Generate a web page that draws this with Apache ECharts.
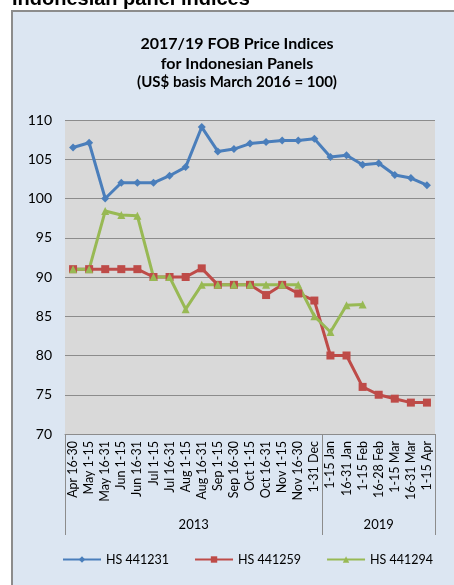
<!DOCTYPE html>
<html>
<head>
<meta charset="utf-8">
<script src="https://cdn.jsdelivr.net/npm/echarts@6/dist/echarts.min.js"></script>
<style>
  html, body { margin: 0; padding: 0; background: #fff; }
  #main { width: 454px; height: 585px; }
</style>
</head>
<body>
<div id="main"></div>
<script>
// half-month periods
const categories = [
  'Apr 16-30', 'May 1-15', 'May 16-31', 'Jun 1-15', 'Jun 16-31', 'Jul 1-15',
  'Jul 16-31', 'Aug 1-15', 'Aug 16-31', 'Sep 1-15', 'Sep 16-30', 'Oct 1-15',
  'Oct 16-31', 'Nov 1-15', 'Nov 16-30', '1-31 Dec',
  '1-15 Jan', '16-31 Jan', '1-15 Feb', '16-28 Feb', '1-15 Mar', '16-31 Mar', '1-15 Apr'
]
const yearLabels = ['2013', '2019']
const yearSpans = [16, 7]

const hs441231 = [106.5, 107.1, 100, 102, 102, 102, 102.9, 104, 109.1, 106, 106.3, 107,
  107.2, 107.4, 107.4, 107.6, 105.3, 105.5, 104.3, 104.5, 103, 102.6, 101.7]
const hs441259 = [91, 91, 91, 91, 91, 90, 90, 90, 91.1, 89, 89, 89,
  87.7, 89, 87.9, 87, 80, 80, 76, 75, 74.5, 74, 74]
const hs441294 = [91, 91, 98.4, 97.9, 97.8, 90, 90, 85.9, 89, 89, 89, 89,
  89, 89, 89, 85, 83, 86.4, 86.5, null, null, null, null]

const yTicks = [70, 110, 5] // min, max, step

// group boundaries / centres on the 0..n scale
const bounds = [0]
yearSpans.forEach(s => bounds.push(bounds[bounds.length - 1] + s))
const centres = yearSpans.map((s, i) => bounds[i] + s / 2)

const font = 'Lato'
const gridGray = '#8c8c8c'

const chart = echarts.init(document.getElementById('main'))

const options = {
  backgroundColor: '#fff',
  animation: false,
  textStyle: { fontFamily: font },
  graphic: [
    {
      type: 'rect',
      z: -100,
      shape: { x: 12, y: 11, width: 600, height: 700 },
      style: { fill: '#dce6f2', stroke: '#8c8c8c', lineWidth: 2 }
    },
    {
      type: 'text',
      left: 12,
      top: -11,
      style: {
        text: 'Indonesian panel indices',
        font: 'bold 20px "Liberation Sans", Arial, sans-serif',
        fill: '#000'
      }
    }
  ],
  title: {
    left: 232,
    top: 29,
    textAlign: 'center',
    itemGap: 1,
    text: '2017/19 FOB Price Indices\nfor Indonesian Panels',
    textStyle: { fontFamily: font, fontSize: 16, fontWeight: 'bold', color: '#000', lineHeight: 20 },
    subtext: '(US$ basis March 2016 = 100)',
    subtextStyle: { fontFamily: font, fontSize: 15, fontWeight: 'bold', color: '#000' }
  },
  legend: {
    left: 57,
    top: 548,
    itemWidth: 38,
    itemHeight: 8,
    itemGap: 25,
    textStyle: { fontFamily: font, fontSize: 12.5, color: '#000' },
    data: ['HS 441231', 'HS 441259', 'HS 441294']
  },
  grid: {
    left: 65,
    top: 120,
    width: 370,
    height: 314,
    show: true,
    backgroundColor: '#d9d9d9',
    borderWidth: 0
  },
  xAxis: [
    {
      type: 'category',
      data: categories,
      boundaryGap: true,
      axisLine: { show: true, lineStyle: { color: gridGray, width: 1 } },
      axisTick: { show: false },
      axisLabel: { interval: 0, rotate: 90, margin: 7, fontSize: 12.5, color: '#000', fontFamily: font }
    },
    {
      type: 'value',
      min: 0,
      max: bounds[bounds.length - 1],
      position: 'bottom',
      axisLine: { show: false },
      splitLine: { show: false },
      axisTick: {
        show: true,
        length: 101,
        customValues: bounds,
        lineStyle: { color: gridGray, width: 1 }
      },
      axisLabel: {
        customValues: centres,
        margin: 84,
        fontSize: 13,
        color: '#000',
        fontFamily: font,
        formatter: v => yearLabels[centres.indexOf(v)]
      }
    }
  ],
  yAxis: {
    type: 'value',
    min: yTicks[0],
    max: yTicks[1],
    interval: yTicks[2],
    axisLine: { show: false },
    axisTick: { show: false },
    axisLabel: { margin: 13, fontSize: 14, color: '#000', fontFamily: font },
    splitLine: { lineStyle: { color: gridGray, width: 1 } }
  },
  series: [
    {
      name: 'HS 441231',
      type: 'line',
      data: hs441231,
      symbol: 'diamond',
      symbolSize: 8,
      lineStyle: { color: '#4a7ebb', width: 3 },
      itemStyle: { color: '#4a7ebb' }
    },
    {
      name: 'HS 441259',
      type: 'line',
      data: hs441259,
      symbol: 'rect',
      symbolSize: 8,
      lineStyle: { color: '#be4b48', width: 3 },
      itemStyle: { color: '#be4b48' }
    },
    {
      name: 'HS 441294',
      type: 'line',
      data: hs441294,
      symbol: 'triangle',
      symbolSize: 8,
      lineStyle: { color: '#98b954', width: 3 },
      itemStyle: { color: '#98b954' }
    }
  ]
}

chart.setOption(options)
</script>
</body>
</html>
